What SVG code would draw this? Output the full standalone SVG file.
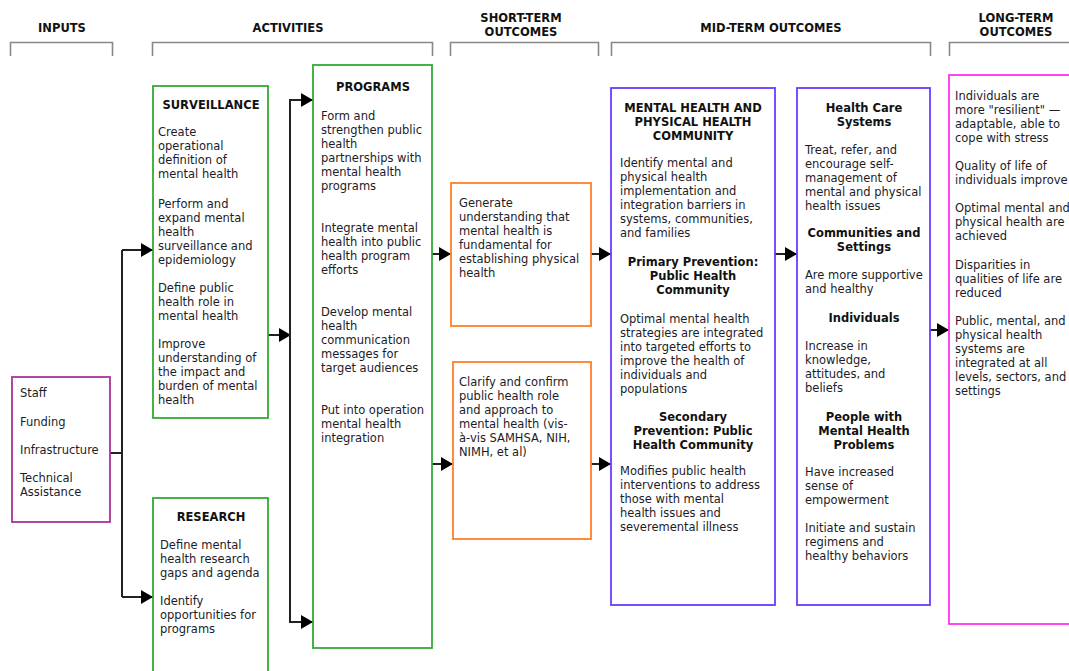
<svg xmlns="http://www.w3.org/2000/svg" width="1069" height="671" viewBox="0 0 1069 671">
<style>
text{font-family:"DejaVu Sans","Verdana",sans-serif;font-size:11.5px;fill:#1c1c28;transform:translateY(1px)}
.h{font-weight:bold;text-anchor:middle;fill:#111}
.t{font-weight:bold;text-anchor:middle;fill:#111}
.br{fill:none;stroke:#888;stroke-width:1.6}
.box{fill:#fff;stroke-width:1.8}
.g{stroke:#33aa33}.o{stroke:#ff7f27}.p{stroke:#aa3399}.b{stroke:#6a3cff}.m{stroke:#ff33ee}
.c{fill:none;stroke:#222;stroke-width:2}
</style>
<defs>
<marker id="ah" markerUnits="userSpaceOnUse" markerWidth="14" markerHeight="15" refX="12" refY="7" orient="auto"><path d="M0,0 L12,7 L0,14 z" fill="#000"/></marker>
</defs>
<rect width="1069" height="671" fill="#fff"/>
<g id="headers">
<text class="h" x="62" y="31">INPUTS</text>
<path class="br" d="M10.5 56V42.5H112.5V56"/>
<text class="h" x="288" y="31">ACTIVITIES</text>
<path class="br" d="M152.5 56V42.5H432.5V56"/>
<text class="h" x="521" y="21">SHORT-TERM</text>
<text class="h" x="521" y="35">OUTCOMES</text>
<path class="br" d="M450.5 56V42.5H598.5V56"/>
<text class="h" x="771" y="31">MID-TERM OUTCOMES</text>
<path class="br" d="M611.5 56V42.5H930.5V56"/>
<text class="h" x="1016" y="21">LONG-TERM</text>
<text class="h" x="1016" y="35">OUTCOMES</text>
<path class="br" d="M949.5 56V42.5H1075"/>
</g>
<g id="connectors">
<path class="c" d="M110 453H122"/>
<path class="c" d="M122 250V597"/>
<path class="c" d="M122 250H153" marker-end="url(#ah)"/>
<path class="c" d="M122 597H153" marker-end="url(#ah)"/>
<path class="c" d="M268 335H291" marker-end="url(#ah)"/>
<path class="c" d="M290 100V622"/>
<path class="c" d="M289 100H313" marker-end="url(#ah)"/>
<path class="c" d="M289 622H313" marker-end="url(#ah)"/>
<path class="c" d="M432 254H451" marker-end="url(#ah)"/>
<path class="c" d="M432 464H453" marker-end="url(#ah)"/>
<path class="c" d="M591 254H611" marker-end="url(#ah)"/>
<path class="c" d="M591 464H611" marker-end="url(#ah)"/>
<path class="c" d="M775 254H797" marker-end="url(#ah)"/>
<path class="c" d="M930 330H949" marker-end="url(#ah)"/>
</g>
<g id="inputs">
<rect class="box p" x="12" y="377" width="98" height="145"/>
<text x="20" y="396">Staff</text>
<text x="20" y="425">Funding</text>
<text x="20" y="453">Infrastructure</text>
<text x="20" y="481">Technical</text>
<text x="20" y="495">Assistance</text>
</g>
<g id="surveillance">
<rect class="box g" x="153" y="86" width="115" height="332"/>
<text class="t" x="211" y="108">SURVEILLANCE</text>
<text x="158"><tspan x="158" y="135">Create</tspan><tspan x="158" y="149">operational</tspan><tspan x="158" y="163">definition of</tspan><tspan x="158" y="177">mental health</tspan><tspan x="158" y="207">Perform and</tspan><tspan x="158" y="221">expand mental</tspan><tspan x="158" y="235">health</tspan><tspan x="158" y="249">surveillance and</tspan><tspan x="158" y="263">epidemiology</tspan><tspan x="158" y="291">Define public</tspan><tspan x="158" y="305">health role in</tspan><tspan x="158" y="319">mental health</tspan><tspan x="158" y="347">Improve</tspan><tspan x="158" y="361">understanding of</tspan><tspan x="158" y="375">the impact and</tspan><tspan x="158" y="389">burden of mental</tspan><tspan x="158" y="403">health</tspan></text>
</g>
<g id="research">
<rect class="box g" x="153" y="498" width="115" height="185"/>
<text class="t" x="211" y="520">RESEARCH</text>
<text><tspan x="160" y="548">Define mental</tspan><tspan x="160" y="562">health research</tspan><tspan x="160" y="576">gaps and agenda</tspan><tspan x="160" y="604">Identify</tspan><tspan x="160" y="618">opportunities for</tspan><tspan x="160" y="632">programs</tspan></text>
</g>
<g id="programs">
<rect class="box g" x="313" y="65" width="119" height="583"/>
<text class="t" x="373" y="90">PROGRAMS</text>
<text><tspan x="321" y="119">Form and</tspan><tspan x="321" y="133">strengthen public</tspan><tspan x="321" y="147">health</tspan><tspan x="321" y="161">partnerships with</tspan><tspan x="321" y="175">mental health</tspan><tspan x="321" y="189">programs</tspan><tspan x="321" y="231">Integrate mental</tspan><tspan x="321" y="245">health into public</tspan><tspan x="321" y="259">health program</tspan><tspan x="321" y="273">efforts</tspan><tspan x="321" y="315">Develop mental</tspan><tspan x="321" y="329">health</tspan><tspan x="321" y="343">communication</tspan><tspan x="321" y="357">messages for</tspan><tspan x="321" y="371">target audiences</tspan><tspan x="321" y="413">Put into operation</tspan><tspan x="321" y="427">mental health</tspan><tspan x="321" y="441">integration</tspan></text>
</g>
<g id="short1">
<rect class="box o" x="451" y="183" width="140" height="143"/>
<text><tspan x="459" y="206">Generate</tspan><tspan x="459" y="220">understanding that</tspan><tspan x="459" y="234">mental health is</tspan><tspan x="459" y="248">fundamental for</tspan><tspan x="459" y="262">establishing physical</tspan><tspan x="459" y="276">health</tspan></text>
</g>
<g id="short2">
<rect class="box o" x="453" y="362" width="138" height="177"/>
<text><tspan x="459" y="385">Clarify and confirm</tspan><tspan x="459" y="399">public health role</tspan><tspan x="459" y="413">and approach to</tspan><tspan x="459" y="427">mental health (vis-</tspan><tspan x="459" y="441">à-vis SAMHSA, NIH,</tspan><tspan x="459" y="455">NIMH, et al)</tspan></text>
</g>
<g id="mid1">
<rect class="box b" x="611" y="88" width="164" height="517"/>
<text class="t"><tspan x="693" y="111">MENTAL HEALTH AND</tspan><tspan x="693" y="125">PHYSICAL HEALTH</tspan><tspan x="693" y="139">COMMUNITY</tspan></text>
<text><tspan x="620" y="166">Identify mental and</tspan><tspan x="620" y="180">physical health</tspan><tspan x="620" y="194">implementation and</tspan><tspan x="620" y="208">integration barriers in</tspan><tspan x="620" y="222">systems, communities,</tspan><tspan x="620" y="236">and families</tspan></text>
<text class="t"><tspan x="693" y="265">Primary Prevention:</tspan><tspan x="693" y="279">Public Health</tspan><tspan x="693" y="293">Community</tspan></text>
<text><tspan x="620" y="322">Optimal mental health</tspan><tspan x="620" y="336">strategies are integrated</tspan><tspan x="620" y="350">into targeted efforts to</tspan><tspan x="620" y="364">improve the health of</tspan><tspan x="620" y="378">individuals and</tspan><tspan x="620" y="392">populations</tspan></text>
<text class="t"><tspan x="693" y="420">Secondary</tspan><tspan x="693" y="434">Prevention: Public</tspan><tspan x="693" y="448">Health Community</tspan></text>
<text><tspan x="620" y="474">Modifies public health</tspan><tspan x="620" y="488">interventions to address</tspan><tspan x="620" y="502">those with mental</tspan><tspan x="620" y="516">health issues and</tspan><tspan x="620" y="530">severemental illness</tspan></text>
</g>
<g id="mid2">
<rect class="box b" x="797" y="88" width="133" height="517"/>
<text class="t"><tspan x="864" y="111">Health Care</tspan><tspan x="864" y="125">Systems</tspan></text>
<text><tspan x="805" y="153">Treat, refer, and</tspan><tspan x="805" y="167">encourage self-</tspan><tspan x="805" y="181">management of</tspan><tspan x="805" y="195">mental and physical</tspan><tspan x="805" y="209">health issues</tspan></text>
<text class="t"><tspan x="864" y="236">Communities and</tspan><tspan x="864" y="250">Settings</tspan></text>
<text><tspan x="805" y="278">Are more supportive</tspan><tspan x="805" y="292">and healthy</tspan></text>
<text class="t" x="864" y="321">Individuals</text>
<text><tspan x="805" y="349">Increase in</tspan><tspan x="805" y="363">knowledge,</tspan><tspan x="805" y="377">attitudes, and</tspan><tspan x="805" y="391">beliefs</tspan></text>
<text class="t"><tspan x="864" y="420">People with</tspan><tspan x="864" y="434">Mental Health</tspan><tspan x="864" y="448">Problems</tspan></text>
<text><tspan x="805" y="475">Have increased</tspan><tspan x="805" y="489">sense of</tspan><tspan x="805" y="503">empowerment</tspan><tspan x="805" y="531">Initiate and sustain</tspan><tspan x="805" y="545">regimens and</tspan><tspan x="805" y="559">healthy behaviors</tspan></text>
</g>
<g id="longterm">
<rect class="box m" x="949" y="75" width="130" height="549"/>
<text><tspan x="955" y="99">Individuals are</tspan><tspan x="955" y="113">more "resilient" —</tspan><tspan x="955" y="127">adaptable, able to</tspan><tspan x="955" y="141">cope with stress</tspan><tspan x="955" y="169">Quality of life of</tspan><tspan x="955" y="183">individuals improve</tspan><tspan x="955" y="211">Optimal mental and</tspan><tspan x="955" y="225">physical health are</tspan><tspan x="955" y="239">achieved</tspan><tspan x="955" y="268">Disparities in</tspan><tspan x="955" y="282">qualities of life are</tspan><tspan x="955" y="296">reduced</tspan><tspan x="955" y="324">Public, mental, and</tspan><tspan x="955" y="338">physical health</tspan><tspan x="955" y="352">systems are</tspan><tspan x="955" y="366">integrated at all</tspan><tspan x="955" y="380">levels, sectors, and</tspan><tspan x="955" y="394">settings</tspan></text>
</g>
</svg>
